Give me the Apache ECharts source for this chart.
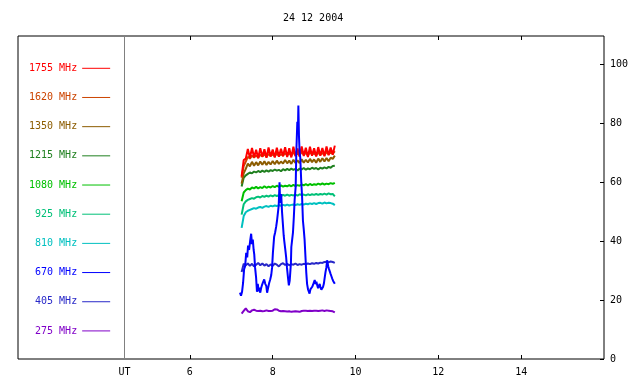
<!DOCTYPE html>
<html>
<head>
<meta charset="utf-8">
<script src="https://cdn.jsdelivr.net/npm/echarts@6.0.0/dist/echarts.min.js"></script>
<style>
  html, body { margin: 0; padding: 0; background: #fff; }
  #main { width: 640px; height: 384px; }
</style>
</head>
<body>
<div id="main"></div>
<script>
// 24 12 2004 radio flux, UT hours vs relative flux
var utTimes = [7.25, 7.30, 7.35, 7.40, 7.45, 7.50, 7.55, 7.60, 7.65, 7.70,
  7.75, 7.80, 7.85, 7.90, 7.95, 8.00, 8.05, 8.10, 8.15, 8.20,
  8.25, 8.30, 8.35, 8.40, 8.45, 8.50, 8.55, 8.60, 8.65, 8.70,
  8.75, 8.80, 8.85, 8.90, 8.95, 9.00, 9.05, 9.10, 9.15, 9.20,
  9.25, 9.30, 9.35, 9.40, 9.45, 9.50];

var mhz1755 = [62.0, 67.5, 68.0, 71.3, 68.2, 71.6, 68.4, 71.0, 68.1, 71.5,
  68.6, 71.2, 68.3, 71.8, 68.7, 71.1, 68.4, 71.7, 68.6, 71.3,
  68.8, 71.9, 68.5, 71.5, 68.4, 72.0, 68.8, 71.4, 68.6, 72.1,
  68.9, 71.7, 68.5, 72.0, 69.0, 71.5, 68.7, 71.9, 69.0, 71.6,
  68.8, 72.1, 69.1, 71.8, 69.3, 72.4];
var mhz1620 = [61.5, 65.5, 67.0, 68.6, 68.0, 69.0, 68.4, 69.1, 68.3, 69.3,
  68.7, 69.5, 68.6, 69.6, 68.9, 69.4, 68.8, 69.7, 68.9, 69.5,
  69.0, 69.9, 69.1, 69.8, 69.0, 70.1, 69.2, 69.7, 69.1, 70.3,
  69.3, 70.0, 69.0, 70.2, 69.4, 69.8, 69.1, 70.0, 69.3, 69.9,
  69.2, 70.2, 69.5, 70.0, 69.6, 70.5];
var mhz1350 = [59.5, 63.0, 64.5, 66.3, 65.4, 66.9, 65.6, 66.8, 65.7, 67.0,
  65.9, 67.1, 65.8, 66.9, 66.0, 67.2, 66.1, 67.3, 66.2, 67.0,
  66.3, 67.5, 66.4, 67.3, 66.2, 67.6, 66.5, 67.4, 66.5, 67.8,
  66.6, 67.6, 66.7, 67.9, 66.8, 67.7, 66.6, 68.0, 66.9, 68.1,
  67.0, 68.2, 67.1, 68.3, 67.9, 69.0];
var mhz1215 = [58.5, 61.5, 62.3, 62.8, 63.3, 63.0, 63.6, 63.3, 63.8, 63.4,
  63.9, 63.5, 64.0, 63.6, 64.1, 63.8, 64.3, 63.9, 64.2, 63.7,
  64.4, 64.0, 64.5, 64.1, 64.6, 64.2, 64.5, 64.0, 64.6, 64.3,
  64.8, 64.2, 64.7, 64.4, 64.9, 64.5, 64.8, 64.3, 64.9, 64.6,
  65.0, 64.7, 65.2, 64.9, 65.5, 65.6];
var mhz1080 = [53.5, 56.5, 57.3, 57.8, 57.5, 58.2, 57.9, 58.4, 57.9, 58.3,
  58.0, 58.6, 58.1, 58.5, 58.2, 58.7, 58.3, 58.8, 58.4, 58.9,
  58.5, 58.8, 58.6, 59.0, 58.6, 59.1, 58.7, 59.0, 58.8, 59.2,
  58.9, 59.3, 58.9, 59.4, 59.0, 59.3, 59.1, 59.5, 59.2, 59.6,
  59.2, 59.5, 59.3, 59.7, 59.4, 59.8];
var mhz925 = [49.0, 52.5, 53.5, 54.0, 54.3, 54.6, 54.4, 54.9, 55.1, 54.8,
  55.3, 55.0, 55.4, 55.1, 55.5, 55.2, 55.6, 55.3, 55.6, 55.3,
  55.7, 55.4, 55.8, 55.4, 55.7, 55.5, 55.8, 55.4, 55.9, 55.6,
  55.8, 55.5, 55.9, 55.6, 55.9, 55.7, 56.0, 55.7, 56.0, 55.8,
  56.1, 55.8, 56.2, 55.9, 56.0, 55.2];
var mhz810 = [44.5, 48.5, 49.8, 50.3, 50.6, 50.9, 51.2, 51.0, 51.4, 51.6,
  51.3, 51.7, 51.9, 51.6, 52.0, 51.8, 52.1, 51.9, 52.2, 52.0,
  52.3, 52.1, 52.4, 52.1, 52.3, 52.4, 52.2, 52.5, 52.3, 52.6,
  52.4, 52.7, 52.5, 52.8, 52.6, 52.9, 52.6, 52.9, 53.0, 52.7,
  53.1, 52.8, 53.0, 52.9, 52.7, 52.2];
var mhz405 = [29.5, 32.3, 31.8, 32.4, 31.6, 32.3, 31.4, 32.0, 32.6, 31.8,
  32.4, 31.7, 32.2, 31.5, 32.1, 31.6, 32.4, 32.0, 31.4, 32.2,
  32.5, 31.9, 32.3, 31.8, 32.2, 32.0, 32.4, 31.9, 32.2, 32.0,
  32.3, 32.1, 32.4, 32.2, 32.5, 32.3, 32.6, 32.4, 32.7, 32.6,
  32.9, 33.0, 32.8, 33.1, 32.9, 32.6];
var mhz275 = [15.4, 16.3, 17.2, 16.2, 15.9, 16.5, 16.7, 16.4, 16.3, 16.4,
  16.2, 16.3, 16.5, 16.3, 16.3, 16.4, 16.9, 16.8, 16.4, 16.2,
  16.3, 16.2, 16.1, 16.2, 16.0, 16.1, 16.2, 16.1, 16.0, 16.3,
  16.4, 16.4, 16.3, 16.4, 16.3, 16.4, 16.4, 16.3, 16.4, 16.5,
  16.3, 16.5, 16.4, 16.3, 16.2, 15.8];

// 670 MHz is burst-y, sampled on its own time list
var ut670 = [7.21, 7.235, 7.26, 7.285, 7.31, 7.335, 7.36, 7.385, 7.405, 7.43,
  7.455, 7.48, 7.50, 7.52, 7.54, 7.555, 7.575, 7.60, 7.62, 7.64,
  7.66, 7.675, 7.70, 7.72, 7.74, 7.765, 7.795, 7.82, 7.845, 7.865,
  7.885, 7.915, 7.94, 7.965, 7.985, 8.005, 8.035, 8.06, 8.085, 8.105,
  8.125, 8.145, 8.165, 8.18, 8.205, 8.225, 8.245, 8.265, 8.28, 8.305,
  8.325, 8.345, 8.37, 8.39, 8.41, 8.425, 8.44, 8.45, 8.47, 8.49,
  8.51, 8.53, 8.555, 8.57, 8.595, 8.61, 8.62, 8.635, 8.65, 8.665,
  8.69, 8.71, 8.73, 8.75, 8.77, 8.79, 8.81, 8.83, 8.855, 8.89,
  8.91, 8.935, 8.955, 8.975, 8.995, 9.015, 9.035, 9.055, 9.075, 9.095,
  9.115, 9.135, 9.155, 9.175, 9.195, 9.215, 9.235, 9.255, 9.275, 9.295,
  9.315, 9.34, 9.36, 9.38, 9.40, 9.42, 9.44, 9.46, 9.48, 9.50];
var mhz670 = [22.5, 21.5, 22.8, 25.8, 30.5, 31.5, 36.0, 34.5, 38.5, 37.0,
  40.0, 42.5, 39.0, 40.5, 37.0, 35.5, 31.0, 27.5, 22.8, 25.5,
  23.0, 24.2, 22.5, 24.0, 25.0, 26.0, 27.0, 25.5, 24.8, 22.5,
  23.8, 25.8, 27.0, 28.5, 31.0, 36.0, 41.5, 43.0, 45.0, 47.0,
  49.5, 52.0, 60.0, 53.0, 56.0, 50.0, 46.0, 42.0, 40.0, 37.0,
  34.5, 31.0, 27.5, 25.0, 26.5, 29.5, 32.5, 38.0, 40.5, 43.0,
  48.0, 54.0, 58.5, 70.0, 80.5, 78.0, 86.0, 75.5, 70.0, 68.5,
  60.0, 55.0, 47.0, 44.0, 40.5, 35.0, 29.5, 25.5, 23.5, 22.2,
  23.6, 23.2, 24.5, 25.2, 26.0, 26.8, 25.4, 26.2, 25.0, 24.0,
  24.8, 25.5, 24.2, 23.5, 24.0, 24.4, 25.5, 27.5, 29.5, 31.0,
  33.5, 31.5, 30.5, 30.0, 28.8, 28.0, 27.2, 26.5, 26.0, 25.5];

var legendNames = ['1755 MHz', '1620 MHz', '1350 MHz', '1215 MHz', '1080 MHz',
  '925 MHz', '810 MHz', '670 MHz', '405 MHz', '275 MHz'];
var colors = {
  '1755 MHz': '#ff0000', '1620 MHz': '#cc4400', '1350 MHz': '#8c5c00',
  '1215 MHz': '#208020', '1080 MHz': '#00c000', '925 MHz': '#00c078',
  '810 MHz': '#00c0c0', '670 MHz': '#0000ff', '405 MHz': '#2828c8',
  '275 MHz': '#8000c8'
};
var xTicks = [6, 8, 10, 12, 14];
var utMarker = 4.42;
var yTicks = [0, 20, 40, 60, 80, 100];

var FONT = 'DejaVu Sans Mono';

function pairs(xs, ys) {
  return ys.map(function (v, i) { return [xs[i], v]; });
}

function line(name, xs, ys, extra) {
  var s = {
    name: name,
    type: 'line',
    data: pairs(xs, ys),
    symbol: 'none',
    color: colors[name],
    lineStyle: { width: 2, color: colors[name] },
    silent: true
  };
  return Object.assign(s, extra || {});
}

var series = [
  line('275 MHz', utTimes, mhz275, {
    markLine: {
      silent: true,
      symbol: ['none', 'none'],
      label: { show: false },
      lineStyle: { color: '#808080', type: 'solid', width: 1 },
      data: [{ xAxis: utMarker }]
    }
  }),
  line('405 MHz', utTimes, mhz405),
  line('810 MHz', utTimes, mhz810),
  line('925 MHz', utTimes, mhz925),
  line('1080 MHz', utTimes, mhz1080),
  line('1215 MHz', utTimes, mhz1215),
  line('1350 MHz', utTimes, mhz1350),
  line('1620 MHz', utTimes, mhz1620),
  line('1755 MHz', utTimes, mhz1755),
  line('670 MHz', ut670, mhz670)
];

var myChart = echarts.init(document.getElementById('main'));
myChart.setOption({
  animation: false,
  backgroundColor: '#fff',
  title: {
    text: '24 12 2004',
    left: 283,
    top: 13,
    padding: 0,
    textStyle: { fontFamily: FONT, fontSize: 10, fontWeight: 'normal', color: '#000' }
  },
  legend: {
    orient: 'vertical',
    left: 29,
    top: 62.7,
    padding: 0,
    itemGap: 17.98,
    itemWidth: 28,
    itemHeight: 14,
    align: 'right',
    selectedMode: false,
    itemStyle: { opacity: 0 },
    lineStyle: { width: 1 },
    textStyle: { fontFamily: FONT, fontSize: 10 },
    formatter: function (name) { return name.padStart(8, ' '); },
    data: legendNames.map(function (n) {
      return { name: n, textStyle: { color: colors[n] } };
    })
  },
  grid: {
    left: 18, right: 36, top: 36, bottom: 25,
    show: true, borderColor: '#000', borderWidth: 1
  },
  xAxis: [{
    type: 'value',
    position: 'bottom',
    min: 1.85,
    max: 16,
    axisLine: { show: false },
    splitLine: { show: false },
    axisTick: { show: true, inside: true, length: 4, customValues: xTicks, lineStyle: { color: '#000' } },
    axisLabel: {
      customValues: [utMarker].concat(xTicks),
      formatter: function (v) { return v === utMarker ? 'UT' : String(v); },
      margin: 8, color: '#000', fontFamily: FONT, fontSize: 10
    }
  }, {
    type: 'value',
    position: 'top',
    min: 1.85,
    max: 16,
    axisLine: { show: false },
    splitLine: { show: false },
    axisTick: { show: true, inside: true, length: 4, customValues: xTicks, lineStyle: { color: '#000' } },
    axisLabel: { show: false }
  }],
  yAxis: {
    type: 'value',
    position: 'right',
    min: 0,
    max: 109.6,
    axisLine: { show: false },
    splitLine: { show: false },
    axisTick: { show: true, inside: true, length: 4, customValues: yTicks, lineStyle: { color: '#000' } },
    axisLabel: { customValues: yTicks, margin: 6, color: '#000', fontFamily: FONT, fontSize: 10 }
  },
  series: series
});
</script>
</body>
</html>
